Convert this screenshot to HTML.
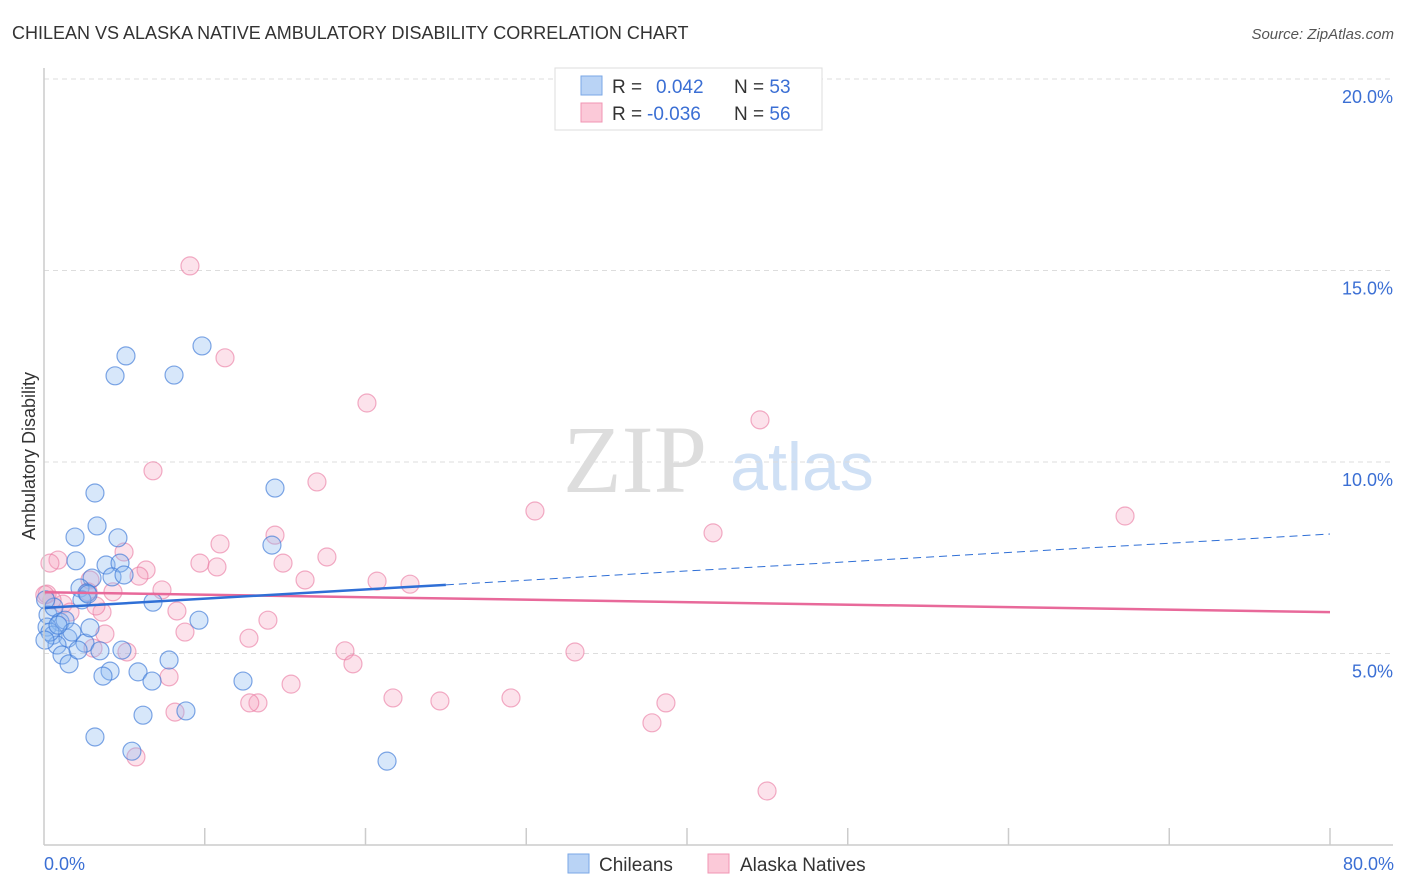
<!DOCTYPE html>
<html><head><meta charset="utf-8"><style>
body{margin:0;background:#fff;font-family:"Liberation Sans",sans-serif;}
#wrap{position:relative;width:1406px;height:892px;overflow:hidden;}
</style></head><body>
<div id="wrap">
<svg id="svg" width="1406" height="892" xmlns="http://www.w3.org/2000/svg">
<text x="12" y="39" font-size="18" fill="#333">CHILEAN VS ALASKA NATIVE AMBULATORY DISABILITY CORRELATION CHART</text>
<text x="1394" y="39" font-size="15" fill="#555" font-style="italic" text-anchor="end">Source: ZipAtlas.com</text>
<text x="35" y="456" font-size="18" fill="#333" text-anchor="middle" transform="rotate(-90 35 456)">Ambulatory Disability</text>
<text x="635" y="492" font-size="96" fill="#ddd" font-family="Liberation Serif,serif" text-anchor="middle">ZIP</text>
<text x="802" y="490" font-size="68" fill="#cfe0f5" text-anchor="middle">atlas</text>
<g id="grid"></g><g id="pts"></g><g id="lines"></g>
<line x1="44" y1="68" x2="44" y2="845" stroke="#ccc" stroke-width="1.5"/>
<line x1="44" y1="845" x2="1393" y2="845" stroke="#ccc" stroke-width="1.5"/>
<text x="44" y="870" font-size="18" fill="#3b6fd4">0.0%</text>
<text x="1394" y="870" font-size="18" fill="#3b6fd4" text-anchor="end">80.0%</text>
<rect x="555" y="68" width="267" height="62" fill="#fff" stroke="#ddd"/>
<rect x="581" y="76" width="21" height="19" fill="#b9d3f5" stroke="#7aa7e6"/>
<rect x="581" y="103" width="21" height="19" fill="#fbc9d8" stroke="#f095b3"/>
<text x="612" y="93" font-size="19" fill="#333">R = <tspan fill="#3b6fd4" x="656">0.042</tspan><tspan x="734" fill="#333">N = </tspan><tspan fill="#3b6fd4">53</tspan></text>
<text x="612" y="120" font-size="19" fill="#333">R = <tspan fill="#3b6fd4" x="647">-0.036</tspan><tspan x="734" fill="#333">N = </tspan><tspan fill="#3b6fd4">56</tspan></text>
<rect x="568" y="854" width="21" height="19" fill="#b9d3f5" stroke="#7aa7e6"/>
<text x="599" y="871" font-size="19" fill="#333">Chileans</text>
<rect x="708" y="854" width="21" height="19" fill="#fbc9d8" stroke="#f095b3"/>
<text x="740" y="871" font-size="19" fill="#333">Alaska Natives</text>
</svg></div>
<script>
const yTicks=[5,10,15,20];
const yTickLabels=["5.0%","10.0%","15.0%","20.0%"];
const xTicks=[10,20,30,40,50,60,70,80];
const chileX=[3.17,4.42,5.10,8.09,9.83,14.37,3.30,1.93,4.60,14.18,1.99,3.86,4.73,4.23,4.98,2.99,2.24,2.67,6.78,9.64,0.25,0.62,1.00,0.19,0.56,1.49,2.55,2.86,0.81,1.12,1.56,3.48,4.85,7.78,4.11,3.67,5.85,6.72,12.38,8.83,6.16,3.17,5.47,21.34,0.1,0.37,1.31,2.36,2.74,1.74,0.87,0.06,2.12];
const chileY=[9.19,12.25,12.77,12.27,13.03,9.32,8.33,8.04,8.02,7.83,7.42,7.31,7.36,7.00,7.05,6.97,6.71,6.58,6.34,5.87,6.01,6.21,5.82,5.69,5.48,5.40,5.27,5.67,5.22,4.96,4.73,5.07,5.09,4.83,4.54,4.41,4.52,4.28,4.28,3.50,3.39,2.82,2.45,2.19,6.40,5.56,5.87,6.40,6.55,5.56,5.74,5.35,5.09];
const alaskaX=[9.08,11.26,20.09,44.54,6.78,16.98,30.54,67.25,41.62,14.37,10.95,4.98,0.87,0.37,17.60,14.87,9.70,10.76,6.35,5.91,2.86,16.24,20.72,22.77,7.34,4.29,2.74,3.61,3.23,8.27,1.18,0.50,13.93,8.77,3.79,12.75,0.19,18.72,33.03,5.16,19.22,7.78,15.37,21.71,29.05,24.63,13.31,38.69,8.15,37.82,5.72,44.98,3.05,1.62,0.05,12.8];
const alaskaY=[15.12,12.72,11.54,11.10,9.77,9.48,8.72,8.59,8.15,8.09,7.86,7.65,7.44,7.36,7.52,7.36,7.36,7.26,7.18,7.02,6.92,6.92,6.89,6.81,6.66,6.61,6.61,6.08,6.24,6.11,6.29,6.40,5.87,5.56,5.51,5.40,6.55,5.07,5.04,5.04,4.73,4.39,4.20,3.84,3.84,3.76,3.71,3.71,3.47,3.19,2.30,1.41,5.14,6.08,6.53,3.71];
const chileTrend=[6.19,8.12];
const alaskaTrend=[6.6,6.08];
const chileSolidEnd=25;
function sx(v){return 44+v*16.075;}
function sy(v){return 845-v*38.3;}
const NS="http://www.w3.org/2000/svg";
function mk(t,a,p){const e=document.createElementNS(NS,t);for(const k in a)e.setAttribute(k,a[k]);p.appendChild(e);return e;}
const grid=document.getElementById('grid');
yTicks.forEach((v,i)=>{
 const l=mk('line',{x1:44,x2:1393,y1:sy(v),y2:sy(v),stroke:'#ddd','stroke-dasharray':'5,4'},grid);
 
 
 const t=mk('text',{x:1393,y:sy(v)+24,'font-size':18,fill:'#3b6fd4','text-anchor':'end'},grid);
 t.textContent=yTickLabels[i];
 
 
});
xTicks.forEach(v=>{
 const l=mk('line',{x1:sx(v),x2:sx(v),y1:828,y2:845,stroke:'#ccc','stroke-width':1.5},grid);
 
 
});
const pts=document.getElementById('pts');
alaskaX.forEach((x,i)=>{
 const c=mk('circle',{cx:sx(x),cy:sy(alaskaY[i]),r:9,fill:'rgba(246,160,190,0.3)',stroke:'rgba(234,120,160,0.6)','stroke-width':1.2},pts);
 
 
});
chileX.forEach((x,i)=>{
 const c=mk('circle',{cx:sx(x),cy:sy(chileY[i]),r:9,fill:'rgba(140,185,240,0.35)',stroke:'rgba(60,120,215,0.65)','stroke-width':1.2},pts);
 
 
});
const lines=document.getElementById('lines');
function ty(tr,x){return tr[0]+(tr[1]-tr[0])*x/80;}
let l1=mk('line',{x1:sx(0),y1:sy(alaskaTrend[0]),x2:sx(80),y2:sy(alaskaTrend[1]),stroke:'#e8699a','stroke-width':2.5},lines);


let l2=mk('line',{x1:sx(0),y1:sy(chileTrend[0]),x2:sx(chileSolidEnd),y2:sy(ty(chileTrend,chileSolidEnd)),stroke:'#2f6fd6','stroke-width':2.5},lines);


let l3=mk('line',{x1:sx(chileSolidEnd),y1:sy(ty(chileTrend,chileSolidEnd)),x2:sx(80),y2:sy(chileTrend[1]),stroke:'#2f6fd6','stroke-width':1,'stroke-dasharray':'8,5'},lines);


</script>
</body></html>
